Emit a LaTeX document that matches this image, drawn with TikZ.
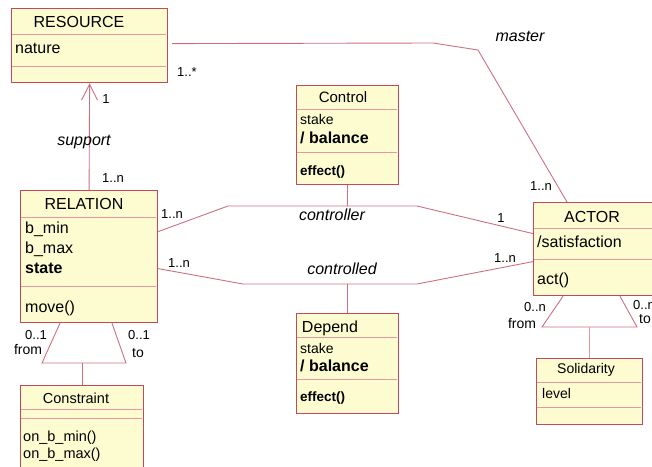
\documentclass[tikz,border=0pt]{standalone}
\usepackage{fontspec}
\setmainfont{Liberation Sans}
\usetikzlibrary{arrows.meta,calc}

\definecolor{boxfill}{RGB}{252,252,208}
\definecolor{boxline}{RGB}{196,72,92}
\definecolor{sepline}{RGB}{232,150,160}
\definecolor{assocline}{RGB}{204,112,128}

\begin{document}
\begin{tikzpicture}[x = 1pt, y = -1pt,
  classbox/.style = {draw = boxline, fill = boxfill, line width = 1.2pt, anchor = north west, inner sep = 0pt},
  divider/.style = {draw = sepline, line width = 1pt},
  assoc/.style = {draw = assocline, line width = 0.9pt},
  title/.style = {font = \fontsize{16}{19}\selectfont, inner sep = 0pt},
  member/.style = {font = \fontsize{16}{19}\selectfont, anchor = west, inner sep = 0pt},
  mult/.style = {font = \fontsize{13}{15}\selectfont, inner sep = 0pt},
  role/.style = {font = \fontsize{16}{19}\selectfont\itshape, inner sep = 0pt}]
\useasboundingbox (0,0) rectangle (652,466);
\clip (0,0) rectangle (652,466);
\foreach \name/\x/\y/\w/\h/\a/\b in {resource/11/8/156/74/26/58, relation/20/190/137/132/27/96, control/296/85/102/99/24/67, depend/296/313/102/100/24/66, actor/533/202/130/93/26/57, constraint/20/385/123/100/24/33, solidarity/536/358/106/66/24/49}
{
  \node[classbox, minimum width = \w, minimum height = \h] (\name) at (\x,\y) {};
  \draw[divider] (\x+0.6,\y+\a) -- (\x+\w-0.6,\y+\a);
  \draw[divider] (\x+0.6,\y+\b) -- (\x+\w-0.6,\y+\b);
}
\node[title] (resource-name) at (79,22) {RESOURCE};
\node[member] (resource-nature) at (15,48) {nature};
\node[title] (relation-name) at (84,204) {RELATION};
\node[member] (relation-bmin) at (25,229) {b\_min};
\node[member] (relation-bmax) at (25,249) {b\_max};
\node[member, font = \fontsize{16}{19}\selectfont\bfseries] (relation-state) at (25,268) {state};
\node[member] (relation-move) at (25,308) {move()};
\node[title, font = \fontsize{15}{18}\selectfont] (control-name) at (343,97) {Control};
\node[member, font = \fontsize{14}{17}\selectfont] (control-stake) at (300,119) {stake};
\node[member, font = \fontsize{16}{19}\selectfont\bfseries] (control-balance) at (300,138) {/ balance};
\node[member, font = \fontsize{13.5}{16}\selectfont\bfseries] (control-effect) at (300,172) {effect()};
\node[title] (depend-name) at (330,328) {Depend};
\node[member, font = \fontsize{14}{17}\selectfont] (depend-stake) at (300,348) {stake};
\node[member, font = \fontsize{16}{19}\selectfont\bfseries] (depend-balance) at (300,366) {/ balance};
\node[member, font = \fontsize{13.5}{16}\selectfont\bfseries] (depend-effect) at (300,398) {effect()};
\node[title] (actor-name) at (592,217) {ACTOR};
\node[member] (actor-satisfaction) at (537,242) {/satisfaction};
\node[member] (actor-act) at (537,280) {act()};
\node[title, font = \fontsize{14.5}{17}\selectfont] (constraint-name) at (76,398) {Constraint};
\node[member, font = \fontsize{14.5}{17}\selectfont] (constraint-min) at (23,438) {on\_b\_min()};
\node[member, font = \fontsize{14.5}{17}\selectfont] (constraint-max) at (23,455) {on\_b\_max()};
\node[title, font = \fontsize{14}{17}\selectfont] (solidarity-name) at (586,370) {Solidarity};
\node[member, font = \fontsize{14}{17}\selectfont] (solidarity-level) at (542,393) {level};
\draw[assoc, -{Straight Barb[length = 16pt, width = 16pt]}] (relation.north) -- (resource.south);
\node[mult] (support-one) at (106,99) {1};
\node[role] (support-role) at (84,142) {support};
\node[mult] (support-many) at (113,178) {1..n};
\coordinate (m1) at (433,43);
\coordinate (m2) at (478,50);
\draw[assoc] ([xshift = 4pt, yshift = 2pt]resource.east) -- (m1) -- (m2) -- ($(actor.north west)+(34,0)$);
\node[mult] (master-res) at (187,72) {1..*};
\node[role] (master-role) at (520,36) {master};
\node[mult] (master-act) at (541,186) {1..n};
\coordinate (c1) at (228,206);
\coordinate (c2) at (417,206);
\draw[assoc] ([yshift = 25pt]relation.east) -- (c1) -- (c2) -- ([yshift = 15.5pt]actor.west);
\draw[assoc] (control.south) -- (control.south |- c1);
\node[mult] (controller-rel) at (172,214) {1..n};
\node[role] (controller-role) at (332,215) {controller};
\node[mult] (controller-act) at (501,218) {1};
\coordinate (d1) at (243,284);
\coordinate (d2) at (417,284);
\draw[assoc] ([yshift = -12pt]relation.east) -- (d1) -- (d2) -- ([yshift = -12.5pt]actor.west);
\draw[assoc] (depend.north) -- (depend.north |- d1);
\node[mult] (controlled-rel) at (179,263) {1..n};
\node[role] (controlled-role) at (342,269) {controlled};
\node[mult] (controlled-act) at (505,258) {1..n};
\coordinate (rel-from) at (42,363);
\coordinate (rel-to) at (126,363);
\draw[assoc] ($(relation.south west)+(40,0)$) -- (rel-from) -- (rel-to) -- ($(relation.south west)+(92,0)$);
\draw[assoc] (constraint.north) -- (constraint.north |- rel-from);
\node[mult] (rel-from-mult) at (36,335) {0..1};
\node[mult, font = \fontsize{14}{17}\selectfont] (rel-from-role) at (28,349) {from};
\node[mult] (rel-to-mult) at (139,335) {0..1};
\node[mult, font = \fontsize{14}{17}\selectfont] (rel-to-role) at (138,353) {to};
\coordinate (act-from) at (542,327);
\coordinate (act-to) at (637,327);
\draw[assoc] ($(actor.south west)+(30,0)$) -- (act-from) -- (act-to) -- ($(actor.south west)+(87,0)$);
\draw[assoc, draw = sepline] (solidarity.north) -- (solidarity.north |- act-from);
\node[mult] (act-from-mult) at (535,307) {0..n};
\node[mult, font = \fontsize{14}{17}\selectfont] (act-from-role) at (522,323) {from};
\node[mult] (act-to-mult) at (644,305) {0..n};
\node[mult, font = \fontsize{14}{17}\selectfont] (act-to-role) at (645,319) {to};
\end{tikzpicture}
\end{document}
